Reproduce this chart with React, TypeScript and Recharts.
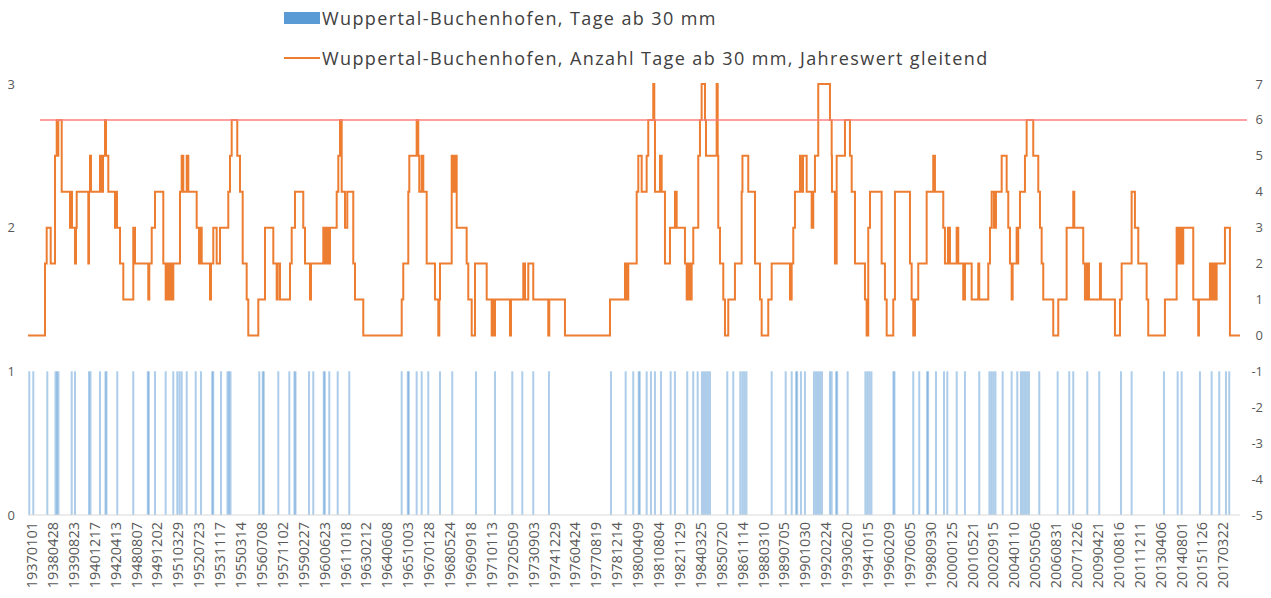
import { ComposedChart, Bar, Line, XAxis, YAxis, ReferenceLine } from "recharts";

// Beschriftung der Rubrikenachse (jede 482. Messung)
const TICK_LABELS = [
  "19370101", "19380428", "19390823", "19401217", "19420413", "19480807", "19491202", "19510329",
  "19520723", "19531117", "19550314", "19560708", "19571102", "19590227", "19600623", "19611018",
  "19630212", "19640608", "19651003", "19670128", "19680524", "19690918", "19710113", "19720509",
  "19730903", "19741229", "19760424", "19770819", "19781214", "19800409", "19810804", "19821129",
  "19840325", "19850720", "19861114", "19880310", "19890705", "19901030", "19920224", "19930620",
  "19941015", "19960209", "19970605", "19980930", "20000125", "20010521", "20020915", "20040110",
  "20050506", "20060831", "20071226", "20090421", "20100816", "20111211", "20130406", "20140801",
  "20151126", "20170322",
];
const TICK_STEP = 482; // Messtage zwischen zwei Beschriftungen
const LAST_DAY = 27950;

// Messtage (Index ab 19370101) mit mindestens 30 mm
const EVENT_DAYS = [
  30, 122, 445, 634, 669, 703, 1008, 1084, 1407, 1441, 1660, 1787, 1810, 2059, 2428, 2763, 2786,
  2929, 3175, 3351, 3443, 3494, 3544, 3660, 3867, 3989, 4248, 4271, 4451, 4600, 4635, 4670,
  5334, 5414, 5437, 5772, 6026, 6145, 6169, 6480, 6579, 6821, 6844, 6948, 7142, 7409,
  8617, 8759, 8782, 8963, 9079, 9231, 9501, 9784, 10331, 10769, 11168, 11399, 11652, 12014,
  13444, 13783, 13958, 14084, 14107, 14267, 14366, 14458, 14597, 14820, 14919, 15203, 15341,
  15443, 15542, 15588, 15634, 15680, 15727, 16126, 16264, 16426, 16476, 16522, 16568,
  17150, 17473, 17611, 17714, 17737, 17825, 17917, 18125, 18172, 18218, 18264, 18310,
  18494, 18533, 18637, 18660, 18902, 19312, 19358, 19404, 19450, 19958, 19981, 20415, 20553,
  20735, 20758, 20939, 21124, 21200, 21417, 21607, 21937, 22172, 22218, 22264, 22310,
  22477, 22684, 22814, 22898, 22944, 22990, 23036, 23083, 23321, 23745, 24012, 24105,
  24428, 24704, 25205, 25451, 26196, 26512, 26604, 27026, 27296, 27471, 27626, 27702,
];

// gleitender Jahreswert: [Messtag, Anzahl Tage ab 30 mm] an jeder Stufe
const ROLLING_COUNT: [number, number][] = [
  [0, 0], [392, 2], [431, 3], [523, 2], [623, 5], [662, 6], [680, 5], [699, 6], [777, 4],
  [969, 3], [992, 4], [1015, 3], [1084, 2], [1107, 3], [1123, 4], [1391, 2], [1407, 4],
  [1430, 5], [1453, 4], [1660, 5], [1706, 4], [1730, 5], [1776, 6], [1799, 5], [1852, 4],
  [2006, 3], [2029, 4], [2052, 3], [2122, 2], [2198, 1], [2428, 3], [2467, 2], [2774, 1],
  [2797, 2], [2853, 3], [2929, 4], [3120, 2], [3175, 1], [3198, 2], [3235, 1], [3275, 2],
  [3314, 1], [3351, 2], [3505, 4], [3544, 5], [3581, 4], [3660, 5], [3697, 4], [3890, 3],
  [3943, 2], [3966, 3], [4006, 2], [4197, 1], [4220, 2], [4273, 3], [4351, 2], [4428, 3],
  [4619, 4], [4658, 5], [4697, 6], [4826, 5], [4889, 4], [4951, 2], [5043, 1], [5080, 0],
  [5311, 1], [5465, 3], [5657, 2], [5735, 1], [5758, 2], [5811, 1], [6042, 2], [6081, 3],
  [6157, 4], [6348, 3], [6388, 2], [6503, 1], [6526, 2], [6810, 3], [6849, 2], [6888, 3],
  [6925, 2], [6964, 3], [7119, 4], [7156, 5], [7195, 6], [7234, 4], [7310, 3], [7363, 4],
  [7501, 2], [7541, 1], [7732, 0], [8618, 1], [8654, 2], [8770, 4], [8793, 5], [8963, 6],
  [9000, 5], [9023, 4], [9079, 5], [9116, 4], [9194, 2], [9385, 1], [9462, 0], [9485, 1],
  [9501, 2], [9771, 5], [9807, 4], [9847, 5], [9886, 3], [10116, 2], [10153, 1], [10232, 0],
  [10308, 2], [10578, 1], [10693, 0], [10716, 1], [10746, 0], [10769, 1], [11115, 0],
  [11138, 1], [11422, 2], [11461, 1], [11537, 2], [11652, 1], [11998, 0], [12021, 1],
  [12383, 0], [13421, 1], [13767, 2], [13806, 1], [13843, 2], [14037, 4], [14074, 5],
  [14152, 4], [14267, 5], [14304, 6], [14419, 7], [14443, 6], [14459, 4], [14574, 5],
  [14613, 4], [14689, 2], [14805, 3], [14920, 4], [14959, 3], [15150, 2], [15190, 1],
  [15227, 2], [15266, 1], [15305, 2], [15342, 3], [15457, 5], [15496, 6], [15535, 7],
  [15612, 6], [15635, 5], [15881, 7], [15905, 5], [15918, 3], [15958, 2], [16034, 1],
  [16073, 0], [16149, 1], [16303, 2], [16458, 4], [16476, 5], [16610, 4], [16765, 2],
  [16880, 1], [16919, 0], [17071, 1], [17150, 2], [17572, 1], [17611, 2], [17648, 3],
  [17687, 4], [17803, 5], [17825, 4], [17872, 5], [17957, 4], [18072, 3], [18109, 4],
  [18148, 5], [18224, 7], [18494, 6], [18533, 5], [18540, 4], [18609, 2], [18649, 5],
  [18840, 6], [18955, 5], [18995, 4], [19071, 2], [19301, 1], [19340, 0], [19377, 3],
  [19417, 4], [19686, 2], [19762, 1], [19802, 0], [19954, 1], [19993, 4], [20339, 2],
  [20378, 1], [20415, 0], [20454, 1], [20530, 2], [20724, 4], [20876, 5], [20915, 4],
  [21107, 3], [21146, 2], [21215, 3], [21261, 2], [21416, 3], [21453, 2], [21568, 1],
  [21607, 2], [21762, 1], [21914, 2], [21937, 1], [22145, 2], [22184, 3], [22223, 4],
  [22276, 3], [22322, 4], [22454, 5], [22569, 4], [22606, 3], [22645, 2], [22684, 1],
  [22707, 2], [22799, 3], [22822, 2], [22836, 3], [22876, 4], [22991, 5], [23030, 6],
  [23182, 5], [23298, 4], [23337, 3], [23376, 2], [23413, 1], [23643, 0], [23759, 1],
  [23952, 3], [24105, 4], [24128, 3], [24335, 2], [24374, 1], [24421, 2], [24467, 1],
  [24720, 2], [24743, 1], [25066, 0], [25182, 1], [25221, 2], [25451, 4], [25527, 3],
  [25604, 2], [25797, 1], [25834, 0], [26219, 1], [26489, 3], [26526, 2], [26565, 3],
  [26604, 2], [26641, 3], [26872, 1], [26987, 0], [27003, 1], [27257, 2], [27296, 1],
  [27326, 2], [27372, 1], [27411, 2], [27603, 3], [27718, 0], [27950, 0],
];

const THRESHOLD = 6;
const THRESHOLD_FROM = 277;
const THRESHOLD_TO = 28110;

const BLUE = "#5b9bd5";
const ORANGE = "#ed7d31";
const FONT = "'Open Sans', sans-serif";

const chartData = [
  ...ROLLING_COUNT.map(([day, count]) => ({ day, count })),
  ...EVENT_DAYS.map(day => ({ day, hit: 1 })),
].sort((a, b) => a.day - b.day);

const EventBar = (props: any) => {
  const { x, y, width, height } = props;
  if (x == null || !isFinite(x) || !height) return null;
  const cx = x + width / 2;
  return <rect x={cx - 1} y={y} width={2} height={height} fill={BLUE} fillOpacity={0.5} />;
};

const DateTick = ({ x, y, payload }: any) => {
  const label = TICK_LABELS[Math.round(payload.value / TICK_STEP)];
  return (
    <text
      x={x}
      y={y}
      transform={`rotate(-90, ${x}, ${y})`}
      textAnchor="end"
      dy={9}
      fontSize={14.5}
      fontFamily={FONT}
      fill="#595959"
    >
      {label}
    </text>
  );
};

const RightTick = ({ x, y, payload }: any) => (
  <text x={x + 23} y={y} dy="0.35em" textAnchor="end" fontSize={13} fontFamily={FONT} fill="#595959">
    {payload.value}
  </text>
);

function ChartLegend() {
  const text = {
    position: "absolute" as const,
    left: 322,
    fontFamily: FONT,
    fontSize: 18,
    letterSpacing: "1.4px",
    color: "#404040",
    lineHeight: "22px",
    whiteSpace: "nowrap" as const,
  };
  return (
    <>
      <div style={{ position: "absolute", left: 284, top: 12, width: 36, height: 12, background: BLUE }} />
      <div style={{ ...text, top: 7 }}>Wuppertal-Buchenhofen, Tage ab 30 mm</div>
      <div style={{ position: "absolute", left: 284, top: 57, width: 36, height: 2, background: ORANGE }} />
      <div style={{ ...text, top: 47 }}>Wuppertal-Buchenhofen, Anzahl Tage ab 30 mm, Jahreswert gleitend</div>
    </>
  );
}

export default function App() {
  return (
    <div style={{ position: "absolute", left: 0, top: 0, width: 1271, height: 598, background: "#fff" }}>
      <ChartLegend />
      <ComposedChart width={1271} height={598} data={chartData} margin={{ top: 84, right: 0, bottom: 0, left: 8 }}>
        <XAxis
          type="number"
          dataKey="day"
          domain={[0, LAST_DAY]}
          ticks={TICK_LABELS.map((_, i) => i * TICK_STEP)}
          interval={0}
          tick={<DateTick />}
          tickLine={false}
          tickSize={0}
          tickMargin={7}
          axisLine={{ stroke: "#d9d9d9" }}
          height={83}
          allowDataOverflow
        />
        <YAxis
          yAxisId="left"
          domain={[0, 3]}
          ticks={[0, 1, 2, 3]}
          axisLine={false}
          tickLine={false}
          tickSize={0}
          tickMargin={13}
          width={20}
          tick={{ fontSize: 13, fontFamily: FONT, fill: "#595959" }}
        />
        <YAxis
          yAxisId="right"
          orientation="right"
          domain={[-5, 7]}
          ticks={[-5, -4, -3, -2, -1, 0, 1, 2, 3, 4, 5, 6, 7]}
          axisLine={false}
          tickLine={false}
          tickSize={0}
          tickMargin={0}
          width={31}
          tick={<RightTick />}
        />
        <Bar yAxisId="left" dataKey="hit" barSize={2} shape={EventBar} isAnimationActive={false} />
        <Line
          yAxisId="right"
          dataKey="count"
          type="stepAfter"
          stroke={ORANGE}
          strokeWidth={2}
          dot={false}
          connectNulls
          isAnimationActive={false}
        />
        <ReferenceLine
          yAxisId="right"
          segment={[{ x: THRESHOLD_FROM, y: THRESHOLD }, { x: THRESHOLD_TO, y: THRESHOLD }]}
          stroke="#ff7f7f"
          strokeWidth={1.5}
          ifOverflow="visible"
        />
      </ComposedChart>
    </div>
  );
}
